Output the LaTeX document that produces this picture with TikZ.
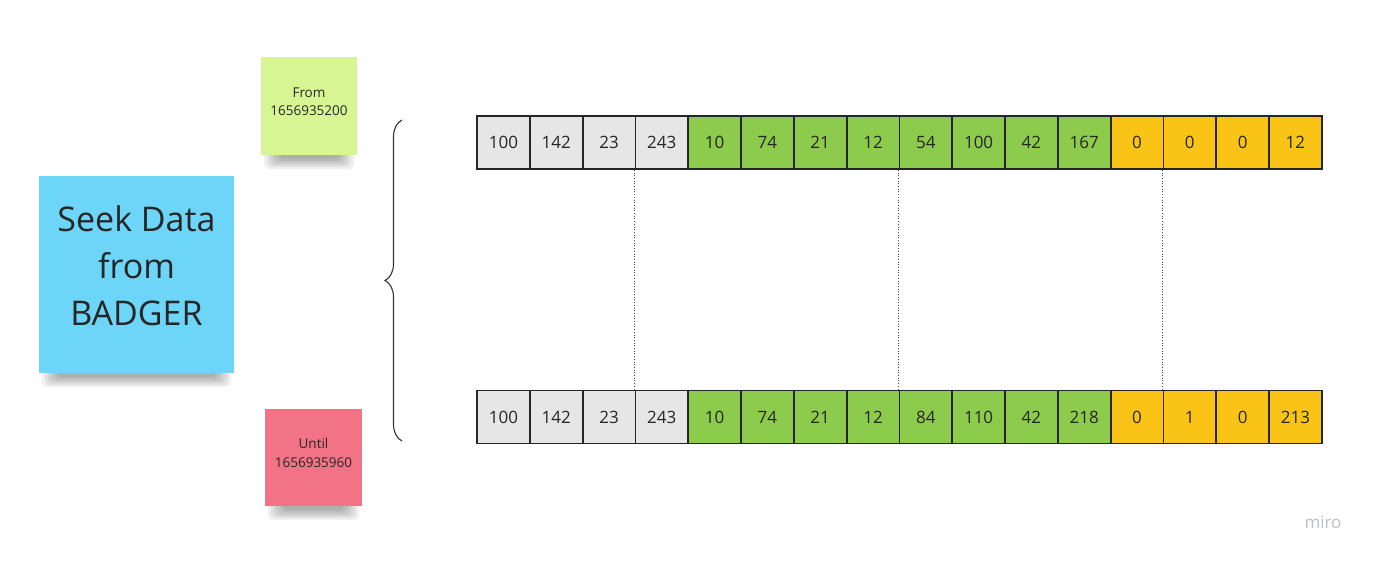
\documentclass[tikz,border=0pt]{standalone}
\usepackage{fontspec}
\setmainfont{Open Sans}
\usepackage{tikz}
\usetikzlibrary{positioning,calc,backgrounds,decorations.pathreplacing}

\definecolor{cellgrey}{HTML}{E6E6E6}
\definecolor{cellgreen}{HTML}{8CCB4C}
\definecolor{cellyellow}{HTML}{F9C416}
\definecolor{celledge}{HTML}{262626}
\definecolor{stickygreen}{HTML}{D8F594}
\definecolor{stickyblue}{HTML}{6DD5F8}
\definecolor{stickyred}{HTML}{F27386}
\definecolor{mirogrey}{HTML}{BDC0CA}

\begin{document}
\begin{tikzpicture}[
  x=1pt,y=-1pt,
  cell/.style={draw=celledge,line width=1.8pt,minimum width=52.8pt,minimum height=53pt,
    inner sep=0pt,text=black!85,font=\fontsize{17}{20}\selectfont},
  sticky/.style={inner sep=0pt,align=center,text=black!85},
  ]
  \tikzset{%
    guide/.style={dotted,line width=0.7pt,color=black!70},
    bracket/.style={decorate,decoration={brace,amplitude=17pt},line width=1.1pt,color=black!80},
    drop/.style={fill=black,opacity=0.06,rounded corners=6pt},
  }
  \begin{pgfonlayer}{background}
    \fill[white] (0,0) rectangle (1377,561);
  \end{pgfonlayer}
  \useasboundingbox (0,0) rectangle (1377,561);
  %Sticky notes
  \node[sticky,fill=stickygreen,minimum width=96pt,minimum height=98pt,text depth=9pt,
    font=\fontsize{13.5}{18}\selectfont](from) at (309,106){From\\1656935200};
  \node[sticky,fill=stickyblue,minimum width=195pt,minimum height=197pt,text depth=18pt,
    font=\fontsize{34}{47}\selectfont](seek) at (136.5,274.5){Seek Data\\from\\BADGER};
  \node[sticky,fill=stickyred,minimum width=97pt,minimum height=97pt,text depth=9pt,
    font=\fontsize{13.5}{19}\selectfont](until) at (313.5,457.5){Until\\1656935960};
  % soft shadows under the notes
  \begin{pgfonlayer}{background}
    \foreach \n in {from,seek,until}
      \foreach \k in {0,...,5}
        \fill[drop] ($(\n.south west)+(3+3*\k,-8)$) rectangle ($(\n.south east)+(-3-3*\k,14-2*\k)$);
  \end{pgfonlayer}
  %Brace
  \coordinate (braceTop) at (402,120);
  \coordinate (braceBot) at (402,441);
  \draw[bracket] (braceBot) -- (braceTop);
  %Rows
  \foreach \v/\c [count=\i] in {100/cellgrey,142/cellgrey,23/cellgrey,243/cellgrey,
    10/cellgreen,74/cellgreen,21/cellgreen,12/cellgreen,54/cellgreen,100/cellgreen,42/cellgreen,167/cellgreen,
    0/cellyellow,0/cellyellow,0/cellyellow,12/cellyellow}
    \node[cell,fill=\c](t\i) at ({477+(\i-0.5)*52.8},142.5){\v};
  \foreach \v/\c [count=\i] in {100/cellgrey,142/cellgrey,23/cellgrey,243/cellgrey,
    10/cellgreen,74/cellgreen,21/cellgreen,12/cellgreen,84/cellgreen,110/cellgreen,42/cellgreen,218/cellgreen,
    0/cellyellow,1/cellyellow,0/cellyellow,213/cellyellow}
    \node[cell,fill=\c](b\i) at ({477+(\i-0.5)*52.8},417){\v};
  %Dotted lines
  \draw (t4.south west) edge[guide] (b4.north west)
        (t9.south west) edge[guide] (b9.north west)
        (t14.south west) edge[guide] (b14.north west);
  %Logo
  \node[text=mirogrey,font=\fontsize{17}{17}\selectfont](logo) at (1323,522){miro};
\end{tikzpicture}
\end{document}
